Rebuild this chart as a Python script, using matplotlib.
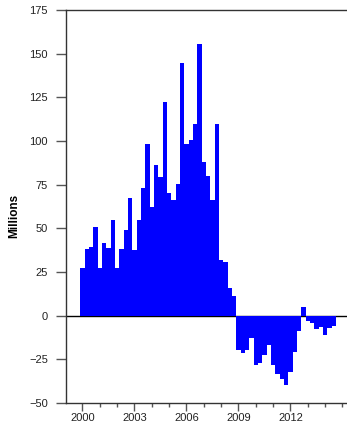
import numpy as np
import matplotlib
matplotlib.use('Agg')
import matplotlib.pyplot as plt
from matplotlib.ticker import MultipleLocator

plt.rcParams['font.family'] = ['Liberation Sans', 'DejaVu Sans']

# quarterly values, first quarter centred on 2000.0
values = [27.5, 38, 39.5, 50.5, 27.5, 41.5, 39, 54.5, 27.5, 38,
          49, 67.5, 37.5, 54.5, 73, 98.5, 62, 86, 79.5, 122.5,
          70.5, 66, 75.5, 144.5, 98, 100.5, 109.5, 155.5, 88, 80,
          66, 110, 32, 30.5, 16, 11,
          -19.6, -21.3, -19.6, -12.8, -28.2, -27.1, -22.5, -16.8, -28.2, -33.3,
          -36.2, -39.6, -32.2, -20.8, -8.8, 4.9, -3.1, -4.2, -7.6, -6.5,
          -11.1, -7.0, -5.9]
start_year = 2000.0
quarters = start_year + 0.25 * np.arange(len(values))
year_ticks = [2000, 2003, 2006, 2009, 2012]
y_ticks = [-50, -25, 0, 25, 50, 75, 100, 125, 150, 175]

fig = plt.figure(figsize=(3.47, 4.24), dpi=100)
ax = fig.add_axes([66/347, 21/424, 1 - 66/347, 393/424])

ax.axhline(0, color='black', lw=1.0, zorder=1)
ax.bar(quarters, values, width=0.25, color='#0000ff', linewidth=0, zorder=2)

ax.set_xlim(1999.05, 2015.26)
ax.set_ylim(-50, 175)
ax.set_yticks(y_ticks)
ax.set_xticks(year_ticks)
ax.xaxis.set_minor_locator(MultipleLocator(1))

for s in ['left', 'bottom', 'top']:
    ax.spines[s].set_color('#333333')
    ax.spines[s].set_linewidth(1.0)
ax.spines['right'].set_visible(False)

ax.tick_params(axis='y', which='major', direction='out', length=7,
               width=1, color='#555555', labelsize=8, labelcolor='#222222', pad=6)
ax.tick_params(axis='x', which='major', direction='out', length=6,
               width=1, color='#555555', labelsize=8, labelcolor='#222222', pad=1)
ax.tick_params(axis='x', which='minor', direction='out', length=3,
               width=1, color='#555555')

fig.text(14/347, 1 - 216/424, 'Millions', rotation=90, fontsize=8.5,
         fontweight='bold', ha='center', va='center')

fig.savefig('out.png', dpi=100)
